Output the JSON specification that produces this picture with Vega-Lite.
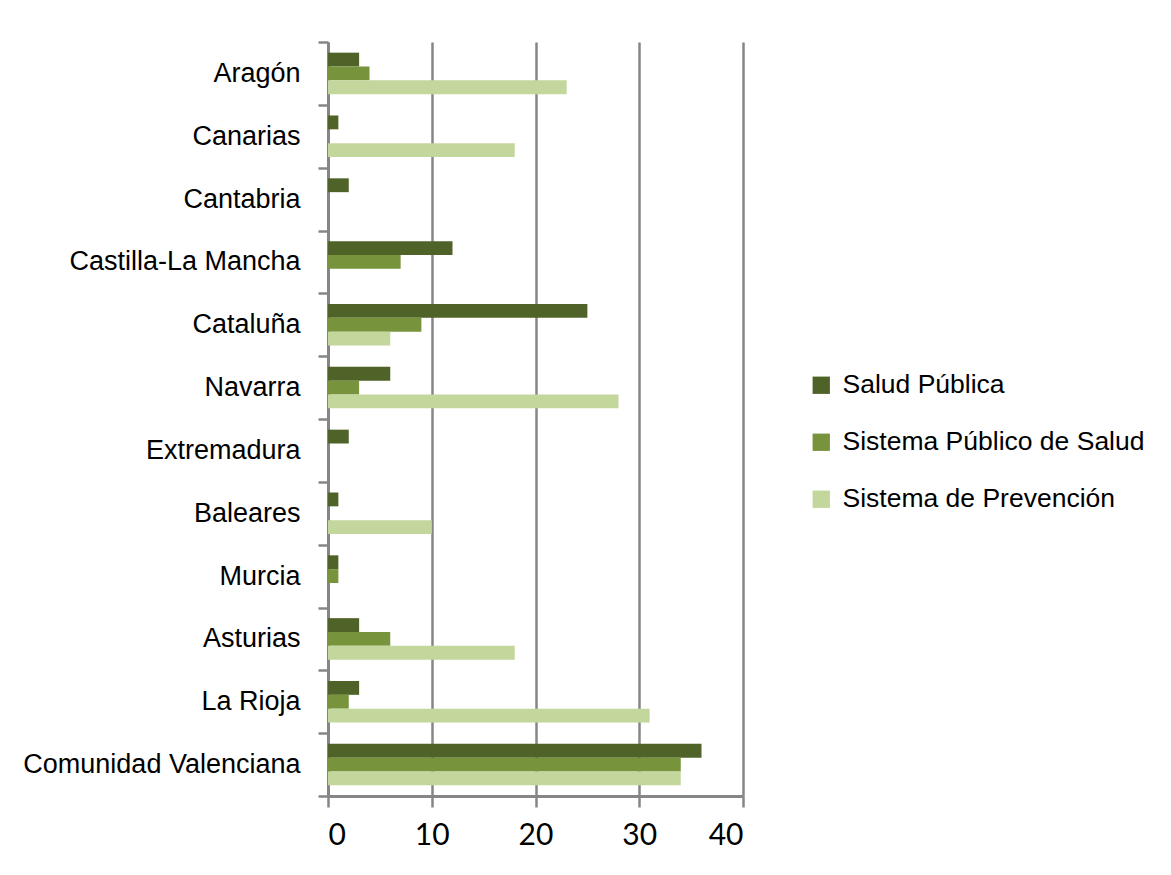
{
  "$schema": "https://vega.github.io/schema/vega-lite/v6.json",
  "autosize": {"type": "none"},
  "padding": {"left": 328, "top": 42, "right": 428, "bottom": 79},
  "width": 415,
  "height": 754,
  "background": "white",
  "data": {
    "values": [
      {"region": "Aragón", "serie": "Salud Pública", "valor": 3},
      {"region": "Aragón", "serie": "Sistema Público de Salud", "valor": 4},
      {"region": "Aragón", "serie": "Sistema de Prevención", "valor": 23},
      {"region": "Canarias", "serie": "Salud Pública", "valor": 1},
      {"region": "Canarias", "serie": "Sistema Público de Salud", "valor": 0},
      {"region": "Canarias", "serie": "Sistema de Prevención", "valor": 18},
      {"region": "Cantabria", "serie": "Salud Pública", "valor": 2},
      {"region": "Cantabria", "serie": "Sistema Público de Salud", "valor": 0},
      {"region": "Cantabria", "serie": "Sistema de Prevención", "valor": 0},
      {"region": "Castilla-La Mancha", "serie": "Salud Pública", "valor": 12},
      {"region": "Castilla-La Mancha", "serie": "Sistema Público de Salud", "valor": 7},
      {"region": "Castilla-La Mancha", "serie": "Sistema de Prevención", "valor": 0},
      {"region": "Cataluña", "serie": "Salud Pública", "valor": 25},
      {"region": "Cataluña", "serie": "Sistema Público de Salud", "valor": 9},
      {"region": "Cataluña", "serie": "Sistema de Prevención", "valor": 6},
      {"region": "Navarra", "serie": "Salud Pública", "valor": 6},
      {"region": "Navarra", "serie": "Sistema Público de Salud", "valor": 3},
      {"region": "Navarra", "serie": "Sistema de Prevención", "valor": 28},
      {"region": "Extremadura", "serie": "Salud Pública", "valor": 2},
      {"region": "Extremadura", "serie": "Sistema Público de Salud", "valor": 0},
      {"region": "Extremadura", "serie": "Sistema de Prevención", "valor": 0},
      {"region": "Baleares", "serie": "Salud Pública", "valor": 1},
      {"region": "Baleares", "serie": "Sistema Público de Salud", "valor": 0},
      {"region": "Baleares", "serie": "Sistema de Prevención", "valor": 10},
      {"region": "Murcia", "serie": "Salud Pública", "valor": 1},
      {"region": "Murcia", "serie": "Sistema Público de Salud", "valor": 1},
      {"region": "Murcia", "serie": "Sistema de Prevención", "valor": 0},
      {"region": "Asturias", "serie": "Salud Pública", "valor": 3},
      {"region": "Asturias", "serie": "Sistema Público de Salud", "valor": 6},
      {"region": "Asturias", "serie": "Sistema de Prevención", "valor": 18},
      {"region": "La Rioja", "serie": "Salud Pública", "valor": 3},
      {"region": "La Rioja", "serie": "Sistema Público de Salud", "valor": 2},
      {"region": "La Rioja", "serie": "Sistema de Prevención", "valor": 31},
      {"region": "Comunidad Valenciana", "serie": "Salud Pública", "valor": 36},
      {"region": "Comunidad Valenciana", "serie": "Sistema Público de Salud", "valor": 34},
      {"region": "Comunidad Valenciana", "serie": "Sistema de Prevención", "valor": 34}
    ]
  },
  "mark": {"type": "bar", "orient": "horizontal"},
  "encoding": {
    "y": {
      "field": "region",
      "type": "nominal",
      "sort": ["Aragón", "Canarias", "Cantabria", "Castilla-La Mancha", "Cataluña", "Navarra", "Extremadura", "Baleares", "Murcia", "Asturias", "La Rioja", "Comunidad Valenciana"],
      "scale": {"paddingInner": 0, "paddingOuter": 0},
      "axis": {
        "title": null,
        "tickBand": "extent",
        "tickSize": 10,
        "tickWidth": 2.5,
        "tickColor": "#868686",
        "domainColor": "#868686",
        "domainWidth": 3,
        "labelFont": "Liberation Sans",
        "labelFontSize": 27,
        "labelColor": "#000000",
        "labelPadding": 18,
        "labelLimit": 0,
        "grid": false
      }
    },
    "x": {
      "field": "valor",
      "type": "quantitative",
      "scale": {"domain": [0, 40], "nice": false},
      "axis": {
        "title": null,
        "values": [0, 10, 20, 30, 40],
        "tickSize": 11,
        "tickWidth": 2.5,
        "tickColor": "#868686",
        "domainColor": "#868686",
        "domainWidth": 3,
        "grid": true,
        "gridColor": "#868686",
        "gridWidth": 2.5,
        "labelFont": "Lato",
        "labelFontSize": 30,
        "labelColor": "#000000",
        "labelPadding": 13
      }
    },
    "yOffset": {
      "field": "serie",
      "type": "nominal",
      "sort": ["Salud Pública", "Sistema Público de Salud", "Sistema de Prevención"],
      "scale": {"paddingInner": 0, "paddingOuter": 0.77}
    },
    "color": {
      "field": "serie",
      "type": "nominal",
      "sort": ["Salud Pública", "Sistema Público de Salud", "Sistema de Prevención"],
      "scale": {
        "domain": ["Salud Pública", "Sistema Público de Salud", "Sistema de Prevención"],
        "range": ["#4F6228", "#77933C", "#C3D69B"]
      },
      "legend": {
        "title": null,
        "orient": "none",
        "legendX": 480,
        "legendY": 330,
        "symbolType": "square",
        "symbolSize": 300,
        "symbolStrokeWidth": 0,
        "symbolOpacity": 1,
        "labelFont": "Liberation Sans",
        "labelFontSize": 26.5,
        "labelColor": "#000000",
        "labelOffset": 8,
        "labelLimit": 0,
        "rowPadding": 30
      }
    }
  },
  "config": {
    "view": {"stroke": null}
  }
}
